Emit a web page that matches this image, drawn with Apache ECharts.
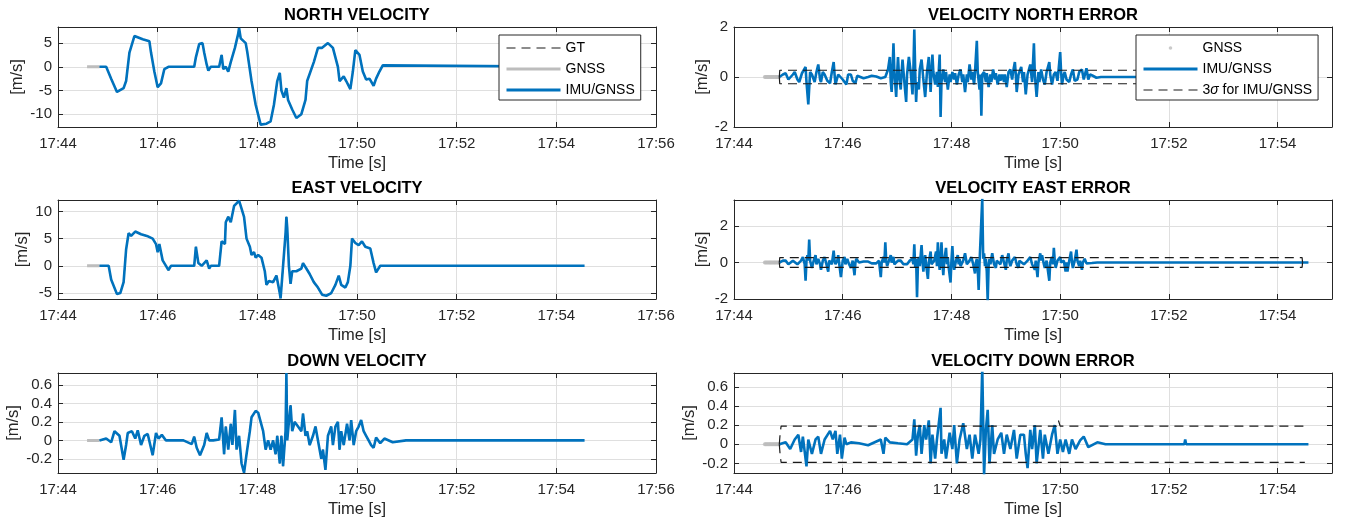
<!DOCTYPE html>
<html>
<head>
<meta charset="utf-8">
<script src="https://cdn.jsdelivr.net/npm/echarts@6/dist/echarts.min.js"></script>
<style>
html, body { margin: 0; background: #fff; }
#main { width: 1346px; height: 523px; }
</style>
</head>
<body>
<div id="main"></div>
<script>
// times are seconds after 17:44:00

// north velocity (IMU/GNSS, GT under it)
var nvT = [50, 58, 64, 71, 79, 82, 86, 92, 94, 102, 110, 112, 116, 120, 124, 128, 133, 164, 166, 170, 174, 176, 179, 181, 184, 194, 197, 199, 202, 205, 208, 210, 213, 217, 218, 220, 226, 228, 233, 238, 244, 251, 256, 260, 264, 267, 269, 272, 275, 277, 282, 287, 293, 298, 300, 308, 313, 318, 325, 331, 337, 339, 344, 347, 352, 355, 358, 363, 367, 371, 375, 380, 383, 387, 391, 393, 634];
var nvV = [0, 0, -2.5, -5.3, -4.5, -3, 3, 6.5, 6.2, 5.8, 5.4, 3, -1, -4.3, -3.5, -0.5, 0, 0, 2, 4.8, 5, 3, 0.5, -0.8, 0, 0, 2.5, -0.5, 0, -1, 1, 1, 4, 7, 8.2, 6, 5, 3, -3, -8, -12.2, -12, -11.5, -8, -3, -1.3, -5, -6.5, -4.5, -7, -9, -10.8, -10, -7, -3, 1, 4, 4, 5, 4, 0, -3, -2, -3, -4.7, -1, 3.5, 2.5, -1, -2.7, -2.5, -4, -2.5, -1, 0.3, 0, 0];

// east velocity
var evT = [50, 61, 64, 71, 75, 79, 82, 85, 88, 93, 100, 107, 114, 118, 120, 122, 126, 130, 133, 136, 164, 166, 169, 173, 176, 179, 182, 184, 194, 197, 201, 202, 205, 208, 212, 215, 218, 221, 224, 227, 231, 233, 236, 238, 241, 245, 249, 251, 254, 259, 263, 267, 268, 271, 274, 275, 276, 278, 280, 282, 287, 293, 295, 299, 303, 308, 313, 318, 323, 329, 334, 338, 341, 346, 349, 352, 354, 358, 362, 366, 370, 376, 380, 383, 388, 393, 634];
var evV = [0, 0, -2.5, -5.2, -5, -3, 3, 6, 5.5, 6.3, 5.8, 5.5, 5, 4, 2.5, 4, 1, 0, -0.8, 0, 0, 3.5, 0.5, 0, 0.5, 1, -0.5, 0, 0, 4.5, 4, 8, 9, 8, 11, 11.5, 12, 10.5, 9, 5, 3.5, 2, 2.5, 1.5, 2, 1.5, -1, -3.5, -2.8, -3, -1.8, -5, -6, 0, 6, 9, 7, 0, -3.3, -1, -1, -0.5, 0.5, -0.5, -1.5, -3, -4, -5.3, -5.5, -5, -3.5, -1.8, -3.5, -4, -3, 0, 5, 4.2, 3.8, 4.5, 3.5, 3.2, 0.5, -1.2, 0, 0, 0];

// down velocity
var dvT = [50, 58, 64, 68, 74, 79, 82, 84, 89, 93, 96, 100, 104, 108, 114, 118, 121, 125, 130, 140, 151, 161, 164, 167, 171, 176, 179, 182, 187, 194, 197, 200, 202, 205, 208, 210, 213, 215, 218, 221, 224, 227, 231, 233, 238, 241, 244, 247, 250, 253, 256, 259, 262, 264, 267, 269, 271, 274, 275, 276, 278, 280, 282, 285, 289, 293, 295, 298, 300, 303, 307, 310, 313, 317, 319, 322, 325, 329, 331, 334, 337, 339, 341, 344, 348, 351, 353, 356, 359, 362, 365, 368, 371, 374, 377, 380, 383, 388, 393, 403, 419, 634];
var dvV = [0, 0.02, -0.02, 0.1, 0.05, -0.21, -0.05, 0.08, 0.1, 0.02, 0.11, -0.05, 0.05, 0.07, -0.16, 0.08, 0.02, 0.06, 0, 0, 0, -0.04, 0.04, -0.08, -0.16, -0.05, 0.08, 0, 0, 0.01, 0.25, -0.15, 0.15, -0.1, 0.18, -0.05, 0.33, -0.1, 0.05, -0.25, -0.35, -0.15, 0.1, 0.25, 0.32, 0.3, 0.2, 0.1, -0.1, 0, -0.1, 0, -0.15, 0.05, -0.25, 0.05, -0.28, 0.1, 0.73, 0, 0.2, 0.38, 0.1, 0.2, 0.15, 0.1, 0.29, 0.05, 0.1, -0.05, 0.05, 0.15, 0, -0.2, -0.1, -0.32, 0.05, 0.15, -0.05, 0.15, 0.2, -0.1, 0.1, -0.05, 0.18, 0, 0.22, -0.05, 0.1, 0.15, 0.22, 0.1, 0.05, 0, -0.05, -0.08, 0.03, -0.03, 0.02, -0.02, 0, 0];

// GNSS before the filter starts
var gvT = [35, 42, 50];
var gvV = [0, 0, 0];

// north velocity error
var neT = [50, 54, 57, 60, 62, 65, 67, 70, 72, 75, 79, 80, 82, 84, 86, 89, 91, 93, 95, 96, 98, 100, 103, 106, 108, 110, 111, 112, 115, 117, 120, 124, 126, 129, 131, 134, 136, 138, 143, 148, 152, 157, 162, 167, 170, 172, 173, 174, 175, 176, 177, 179, 180, 181, 182, 184, 185, 186, 188, 190, 191, 193, 195, 197, 198, 199, 200, 201, 202, 204, 205, 207, 209, 211, 213, 215, 216, 217, 218, 219, 220, 222, 224, 225, 227, 228, 229, 231, 233, 234, 236, 238, 239, 241, 243, 244, 246, 248, 250, 252, 253, 255, 257, 258, 260, 262, 263, 265, 266, 268, 269, 271, 272, 273, 274, 276, 278, 279, 281, 283, 284, 286, 288, 289, 291, 293, 294, 296, 298, 299, 301, 303, 305, 307, 308, 310, 311, 312, 314, 317, 319, 320, 322, 324, 327, 329, 331, 332, 334, 336, 337, 339, 341, 343, 345, 348, 349, 351, 353, 355, 357, 358, 360, 361, 362, 364, 365, 367, 370, 372, 374, 376, 379, 381, 384, 386, 389, 391, 393, 396, 400, 405, 634];
var neV = [0, 0.1, 0.15, -0.1, -0.15, 0.1, 0.2, -0.1, -0.2, 0.15, 0.4, -0.2, -1.1, 0.2, 0.1, -0.2, 0.2, 0.5, -0.1, -0.2, 0.2, 0.1, -0.15, -0.25, 0.2, 0.6, 0.1, -0.3, 0.1, 0.15, -0.1, -0.3, 0.1, 0.1, -0.15, -0.25, 0.05, 0.05, -0.05, 0, 0.05, 0.02, -0.05, 0, 0.3, 0.8, -0.2, -0.6, 0.3, 1.35, 0.2, -0.8, 0.1, 0.8, 0.1, -0.5, 0.2, 0.7, -0.2, -1.0, 0.1, 0.8, 0.2, -0.7, 0.3, 1.9, 0.2, -1.0, -0.2, -0.5, 0.3, 0.7, -0.1, -0.8, 0.2, 0.8, 0.1, -0.6, 0.2, 0.9, 0.2, -0.3, 0.2, -0.4, 0.9, -1.6, -0.2, 0.3, -0.2, 0.2, -0.5, 0.1, -0.2, 0.2, -0.1, 0.15, -0.3, 0.1, 0.3, -0.2, 0.1, -0.6, 0.1, -0.2, 0.5, -0.1, 0.2, -0.3, 0.2, 1.45, 0.2, -0.5, 0.1, -1.55, 0.1, 0.2, -0.2, 0.15, -0.4, 0.1, -0.2, 0.3, -0.1, 0.15, -0.3, 0.1, -0.15, 0.1, -0.2, 0.1, -0.4, 0.2, 0.3, -0.1, 0.2, 0.6, 0.1, -0.6, 0.1, 0.4, -0.2, 0.2, -0.7, 0.1, 0.5, -0.2, 1.35, 0.1, -0.8, 0.2, -0.2, 0.3, -0.1, -0.3, 0.2, 0.6, 0.1, -0.3, 0.1, 0.2, -0.15, 0.2, 1.0, 0.2, -0.3, 0.1, 0.2, -0.1, -0.2, 0.1, 0.3, -0.15, -0.1, 0.2, 0.3, -0.1, 0.35, -0.1, 0.1, 0.05, -0.03, 0, 0];

// east velocity error
var eeT = [50, 54, 57, 60, 62, 65, 67, 70, 72, 74, 76, 78, 79, 80, 81, 82, 83, 84, 86, 88, 90, 91, 93, 95, 96, 98, 100, 102, 104, 105, 107, 108, 110, 111, 112, 114, 115, 116, 118, 120, 122, 123, 125, 127, 129, 131, 133, 134, 135, 138, 143, 148, 152, 157, 160, 162, 163, 165, 166, 167, 168, 169, 171, 173, 174, 176, 177, 179, 181, 184, 187, 191, 194, 197, 198, 199, 200, 201, 202, 203, 204, 205, 207, 208, 209, 210, 211, 212, 214, 215, 217, 218, 220, 221, 223, 224, 225, 226, 227, 228, 229, 230, 231, 232, 234, 235, 236, 237, 239, 240, 241, 242, 243, 245, 247, 248, 249, 250, 252, 253, 255, 257, 259, 260, 262, 264, 266, 267, 268, 269, 270, 271, 272, 274, 275, 276, 277, 278, 279, 280, 281, 282, 283, 285, 287, 289, 290, 292, 294, 296, 298, 300, 301, 303, 304, 305, 307, 310, 312, 314, 315, 317, 320, 322, 324, 327, 329, 332, 333, 335, 336, 338, 339, 340, 342, 343, 345, 348, 349, 351, 352, 353, 354, 355, 357, 360, 361, 363, 364, 366, 367, 368, 370, 372, 373, 374, 376, 378, 379, 381, 382, 384, 385, 387, 389, 391, 395, 401, 634];
var eeV = [0, 0.1, 0.1, -0.1, -0.1, 0.1, 0.15, -0.1, -0.2, 0.1, 0.3, -0.1, -1.0, 0.1, 0.4, 0.1, 1.25, 0.1, -0.3, 0.1, 0.4, -0.1, 0.2, -0.1, -0.4, 0.1, 0.3, -0.1, -0.5, 0.1, 0.1, -0.1, 0.65, 0.1, -0.1, 0.1, 0.4, 0, -0.8, 0.1, 0.3, -0.1, 0.2, -0.1, -0.3, 0.1, -0.7, 0, 0.2, 0, 0.05, 0.05, -0.05, -0.05, 0.1, -0.8, 0, 0.3, 0, 1.1, 0.1, -0.2, 0.1, 0.4, 0, 0.3, -0.1, -0.2, 0.1, 0.1, -0.1, -0.1, 0.1, 0.2, -0.1, 1.0, -0.3, 0.2, -1.9, -0.1, 0.3, -0.2, 0.95, 0.1, -0.5, 0.1, 0.4, -0.1, -0.9, 0, 0.6, -0.1, -0.2, 0.1, 0.6, -0.2, 1.1, 0.1, -0.4, 0.2, 1.1, 0, -0.7, 0.1, 0.8, -0.1, 0.3, -0.3, -1.1, 0.1, 0.9, 0, -0.4, 0.1, 0.4, -0.1, 0.2, -0.2, -0.3, 0.1, 0.5, -0.1, -0.2, 0.1, 0.3, -0.1, -0.6, 0, 0.2, -0.3, -1.5, 0, 0.1, 3.5, 0.2, 0.5, -0.2, 0.2, -0.5, -2.1, -0.2, 0.2, -0.1, 0.5, -0.1, -0.3, 0.1, 0.2, -0.1, 0.4, 0, -0.4, 0.1, 0.5, 0, -0.2, 0.1, 0.3, -0.1, -0.3, 0.1, 0.2, -0.1, -0.2, 0.1, 0.3, -0.1, -0.4, 0.1, -0.8, 0, 0.5, 0.1, 0.4, -0.1, -0.3, 0.1, -1.0, 0, 0.3, -0.1, 0.8, 0.1, -0.3, 0.1, 0.3, 0, -0.1, 0.1, -0.5, 0, -0.5, 0.1, 0.6, 0, -0.3, 0.1, 0.7, 0.1, -0.2, 0.1, -0.4, 0, 0.2, -0.05, 0.05, -0.03, 0, 0];

// down velocity error
var deT = [50, 52, 57, 62, 67, 71, 74, 76, 80, 82, 86, 90, 93, 96, 100, 106, 109, 112, 114, 117, 119, 122, 124, 129, 138, 148, 162, 165, 167, 172, 181, 191, 197, 199, 201, 203, 205, 207, 210, 212, 215, 217, 219, 222, 224, 228, 229, 232, 234, 238, 241, 243, 246, 249, 253, 257, 260, 263, 266, 270, 272, 274, 276, 278, 280, 282, 285, 287, 291, 295, 298, 301, 305, 309, 312, 316, 320, 322, 324, 327, 329, 332, 334, 338, 341, 343, 347, 351, 354, 357, 360, 363, 366, 370, 373, 377, 382, 386, 391, 401, 410, 497, 498, 499, 634];
var deV = [0, 0, 0.02, -0.05, 0.05, 0.1, -0.08, 0.08, -0.23, 0.05, -0.1, 0.05, 0.08, -0.1, 0.05, 0.14, 0.05, 0.14, -0.1, 0.1, -0.15, 0.07, 0, 0.02, 0.01, -0.01, 0.05, -0.1, 0.07, 0.02, 0.01, 0, 0.05, 0.26, -0.12, 0.1, 0.2, -0.1, 0.2, 0.05, 0.25, -0.2, 0.1, -0.15, 0.05, 0.38, -0.1, 0.05, -0.15, 0.12, -0.05, 0.2, -0.2, 0.05, 0.22, -0.05, 0.1, -0.15, 0.1, -0.1, 0.05, 0.8, -0.32, 0.15, 0.36, -0.2, 0.2, -0.1, 0.05, 0.12, -0.1, 0.1, -0.05, 0.15, -0.15, 0.1, 0.1, -0.1, -0.25, 0.15, -0.05, 0.2, -0.2, 0.15, -0.15, 0.1, -0.1, 0.1, 0.2, -0.1, 0.05, -0.08, 0.05, -0.1, 0.05, -0.05, 0.04, 0.08, -0.03, 0.02, 0, 0, 0.05, 0, 0];

// GNSS error dots before the filter starts
var geT = [34, 35, 36, 37, 38, 39, 40, 41, 42, 43, 44, 45, 46, 47, 48, 49, 50];
var geV = [0, 0, 0, 0, 0, 0, 0, 0, 0, 0, 0, 0, 0, 0, 0, 0, 0];

// 3 sigma bounds
var nsT = [50, 50.5, 634];
var nsU = [0, 0.27, 0.27];
var nsL = [0, -0.27, -0.27];
var esT = [50, 50.5, 627, 627.5];
var esU = [0, 0.27, 0.27, 0];
var esL = [0, -0.27, -0.27, 0];
var dsT = [50, 51, 52, 356, 358, 360, 630];
var dsU = [0, 0.12, 0.19, 0.19, 0.25, 0.19, 0.19];
var dsL = [0, -0.12, -0.19, -0.19, -0.22, -0.19, -0.19];

var blue = '#0072bd', gray = '#bdbdbd', black = '#1a1a1a';
var axisColor = '#262626', gridColor = '#dfdfdf';
var font = 'Liberation Sans, Arial, Helvetica, sans-serif';

function pts(t, v) {
	return t.map(function(s, i) {
		return [44 + s / 60, v[i]];
	});
}

var grids = [
	{left: 58, top: 27, width: 598, height: 100},
	{left: 734, top: 27, width: 598, height: 100},
	{left: 58, top: 200, width: 598, height: 99},
	{left: 734, top: 200, width: 598, height: 99},
	{left: 58, top: 373, width: 598, height: 100},
	{left: 734, top: 373, width: 598, height: 100}
];

var titles = ['NORTH VELOCITY', 'VELOCITY NORTH ERROR', 'EAST VELOCITY', 'VELOCITY EAST ERROR', 'DOWN VELOCITY', 'VELOCITY DOWN ERROR'];
var xMax = [56, 55, 56, 55, 56, 55];
var yCfg = [
	{min: -12.7, max: 8.4, splitNumber: 4, gap: 29, showMin: false, showMax: false},
	{min: -2, max: 2, interval: 2, gap: 19, showMin: true, showMax: true},
	{min: -6.1, max: 12.1, splitNumber: 4, gap: 21, showMin: false, showMax: false},
	{min: -2, max: 3.42, interval: 2, gap: 21, showMin: true, showMax: false},
	{min: -0.353, max: 0.73, splitNumber: 5, gap: 32, showMin: false, showMax: false},
	{min: -0.3, max: 0.744, splitNumber: 5, gap: 32, showMin: false, showMax: false}
];

var xAxis = [], yAxis = [];
grids.forEach(function(g, i) {
	xAxis.push({
		type: 'value', gridIndex: i, min: 44, max: xMax[i], interval: 2,
		name: 'Time [s]', nameLocation: 'middle', nameGap: 28,
		nameTextStyle: {fontSize: 16.5, color: axisColor, fontFamily: font},
		axisLine: {onZero: false, lineStyle: {color: axisColor, width: 1}},
		axisTick: {inside: true, length: 5, lineStyle: {color: axisColor}},
		axisLabel: {
			fontSize: 15, color: axisColor, fontFamily: font, margin: 9,
			showMaxLabel: xMax[i] % 2 === 0,
			formatter: function(v) { return '17:' + v; }
		},
		splitLine: {lineStyle: {color: gridColor}}
	});
	xAxis.push({
		type: 'value', gridIndex: i, position: 'top', min: 44, max: xMax[i], interval: 2,
		name: titles[i], nameLocation: 'middle', nameGap: 3,
		nameTextStyle: {fontSize: 16.5, fontWeight: 'bold', color: '#000', fontFamily: font},
		axisLine: {onZero: false, lineStyle: {color: axisColor, width: 1}},
		axisTick: {inside: true, length: 5, lineStyle: {color: axisColor}},
		axisLabel: {show: false},
		splitLine: {show: false}
	});
	var c = yCfg[i];
	var left = {
		type: 'value', gridIndex: i, min: c.min, max: c.max,
		name: '[m/s]', nameLocation: 'middle', nameGap: c.gap,
		nameTextStyle: {fontSize: 16.5, color: axisColor, fontFamily: font},
		axisLine: {show: true, onZero: false, lineStyle: {color: axisColor, width: 1}},
		axisTick: {show: true, inside: true, length: 5, lineStyle: {color: axisColor}},
		axisLabel: {fontSize: 15, color: axisColor, fontFamily: font, margin: 6, showMinLabel: c.showMin, showMaxLabel: c.showMax},
		splitLine: {lineStyle: {color: gridColor}}
	};
	var right = {
		type: 'value', gridIndex: i, position: 'right', min: c.min, max: c.max,
		axisLine: {show: true, onZero: false, lineStyle: {color: axisColor, width: 1}},
		axisTick: {show: true, inside: true, length: 5, lineStyle: {color: axisColor}},
		axisLabel: {show: false},
		splitLine: {show: false}
	};
	if (c.interval) {
		left.interval = c.interval;
		right.interval = c.interval;
	} else {
		left.splitNumber = c.splitNumber;
		right.splitNumber = c.splitNumber;
	}
	yAxis.push(left, right);
});

function line(name, g, data, color, width, dash) {
	return {
		name: name, type: 'line', xAxisIndex: 2 * g, yAxisIndex: 2 * g,
		data: data, symbol: 'none', showSymbol: false,
		lineStyle: {color: color, width: width, type: dash ? [9, 6] : 'solid'},
		itemStyle: {color: color},
		emphasis: {disabled: true}
	};
}

function dots(name, g, data) {
	return {
		name: name, type: 'scatter', xAxisIndex: 2 * g, yAxisIndex: 2 * g,
		data: data, symbolSize: 4, itemStyle: {color: gray},
		emphasis: {disabled: true}
	};
}

var series = [
	line('GT', 0, pts(nvT, nvV), black, 1.2, true),
	line('GNSS', 0, pts(gvT, gvV), gray, 3),
	line('IMU/GNSS', 0, pts(nvT, nvV), blue, 2.6),

	dots('GNSS_err', 1, pts(geT, geV)),
	line('IMU/GNSS', 1, pts(neT, neV), blue, 2.6),
	line('sigma', 1, pts(nsT, nsU), black, 1.2, true),
	line('sigma', 1, pts(nsT, nsL), black, 1.2, true),

	line('GT', 2, pts(evT, evV), black, 1.2, true),
	line('GNSS', 2, pts(gvT, gvV), gray, 3),
	line('IMU/GNSS', 2, pts(evT, evV), blue, 2.6),

	dots('GNSS_err', 3, pts(geT, geV)),
	line('IMU/GNSS', 3, pts(eeT, eeV), blue, 2.6),
	line('sigma', 3, pts(esT, esU), black, 1.2, true),
	line('sigma', 3, pts(esT, esL), black, 1.2, true),

	line('GT', 4, pts(dvT, dvV), black, 1.2, true),
	line('GNSS', 4, pts(gvT, gvV), gray, 3),
	line('IMU/GNSS', 4, pts(dvT, dvV), blue, 2.6),

	dots('GNSS_err', 5, pts(geT, geV)),
	line('IMU/GNSS', 5, pts(deT, deV), blue, 2.6),
	line('sigma', 5, pts(dsT, dsU), black, 1.2, true),
	line('sigma', 5, pts(dsT, dsL), black, 1.2, true)
];

var legendBase = {
	orient: 'vertical', top: 35, itemWidth: 54, itemHeight: 14, itemGap: 7,
	padding: [6, 6, 3, 6], backgroundColor: '#fff', borderColor: axisColor, borderWidth: 1,
	borderRadius: 0, selectedMode: false,
	textStyle: {fontSize: 14, color: '#000', fontFamily: font, rich: {i: {fontSize: 14, fontStyle: 'italic', fontFamily: font, color: '#000'}}},
	formatter: function(name) {
		if (name === 'GNSS_err') return 'GNSS';
		if (name === 'sigma') return '3{i|σ} for IMU/GNSS';
		return name;
	}
};

// hides the marker that line series put in the middle of their legend line
var noMark = {opacity: 0};
var dotIcon = 'path://M0 0h0.01v0.01zM54 14h-0.01v-0.01zM25.2 7a1.8 1.8 0 1 0 3.6 0a1.8 1.8 0 1 0 -3.6 0z';

var chart = echarts.init(document.getElementById('main'));
chart.setOption({
	animation: false,
	backgroundColor: '#fff',
	textStyle: {fontFamily: font},
	grid: grids,
	xAxis: xAxis,
	yAxis: yAxis,
	legend: [
		Object.assign({}, legendBase, {
			left: 499,
			data: [
				{name: 'GT', itemStyle: noMark, lineStyle: {width: 1.2}},
				{name: 'GNSS', itemStyle: noMark, lineStyle: {width: 3}},
				{name: 'IMU/GNSS', itemStyle: noMark, lineStyle: {width: 3}}
			]
		}),
		Object.assign({}, legendBase, {
			left: 1136,
			data: [
				{name: 'GNSS_err', icon: dotIcon},
				{name: 'IMU/GNSS', itemStyle: noMark, lineStyle: {width: 3}},
				{name: 'sigma', itemStyle: noMark, lineStyle: {width: 1.2}}
			]
		})
	],
	series: series
});
</script>
</body>
</html>
